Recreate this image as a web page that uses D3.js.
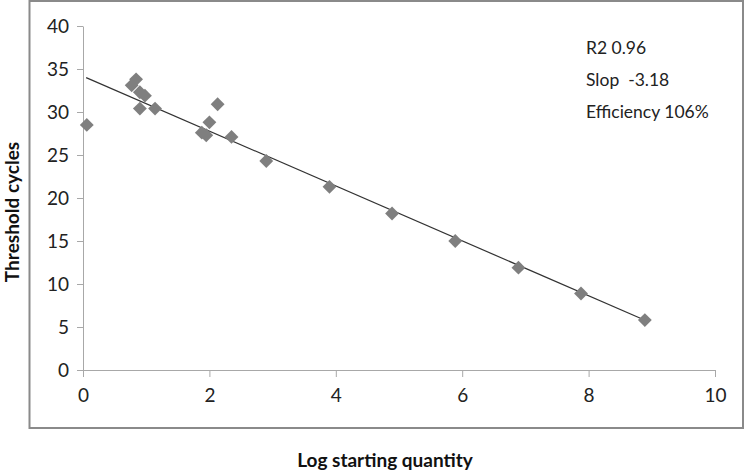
<!DOCTYPE html>
<html><head><meta charset="utf-8">
<script src="https://cdn.jsdelivr.net/npm/d3@7"></script>
<style>
html,body{margin:0;padding:0;background:#fff;}
svg{display:block;font-family:Lato,"Open Sans",sans-serif;}
</style></head>
<body><svg id="c" width="748" height="473"></svg>
<script>
const logQty = [0.06, 0.77, 0.84, 0.90, 0.98, 0.90, 1.14, 1.88, 1.95, 2.00, 2.13, 2.35, 2.90, 3.90, 4.89, 5.89, 6.89, 7.88, 8.89];
const ctValues = [28.5, 33.1, 33.8, 32.3, 31.9, 30.4, 30.4, 27.6, 27.3, 28.8, 30.9, 27.1, 24.3, 21.3, 18.2, 15.0, 11.9, 8.9, 5.8];
const trendX = [0.05, 8.92];
const trendY = [34.0, 5.7];
const xTicks = [0, 2, 4, 6, 8, 10];
const yTicks = [0, 5, 10, 15, 20, 25, 30, 35, 40];
const notes = ["R2 0.96", "Slop  -3.18", "Efficiency 106%"];
const xTitle = "Log starting quantity";
const yTitle = "Threshold cycles";

const svg = d3.select("#c");
const x = d3.scaleLinear().domain([0, 10]).range([83, 715]);
const y = d3.scaleLinear().domain([0, 40]).range([370, 26]);

svg.append("rect").attr("x", 29.5).attr("y", 1).attr("width", 713.5).attr("height", 427)
  .attr("fill", "none").attr("stroke", "#8a8a8a").attr("stroke-width", 2);

const axisColor = "#a8a8a8";
const gx = svg.append("g").attr("transform", "translate(0,370)")
  .call(d3.axisBottom(x).tickValues(xTicks).tickSize(7).tickSizeOuter(0).tickPadding(12).tickFormat(d3.format("d")));
const gy = svg.append("g").attr("transform", "translate(83,0)")
  .call(d3.axisLeft(y).tickValues(yTicks).tickSize(6).tickSizeOuter(0).tickPadding(8).tickFormat(d3.format("d")));
[gx, gy].forEach(g => {
  g.select(".domain").attr("stroke", axisColor);
  g.selectAll(".tick line").attr("stroke", axisColor);
  g.selectAll(".tick text").attr("fill", "#222").style("font-size", "19px").style("font-family", "Lato, sans-serif");
});
gy.selectAll(".tick text").attr("dy", "0.35em");

svg.append("line")
  .attr("x1", x(trendX[0])).attr("y1", y(trendY[0]))
  .attr("x2", x(trendX[1])).attr("y2", y(trendY[1]))
  .attr("stroke", "#333").attr("stroke-width", 1.2);

const sym = d3.symbol().type(d3.symbolSquare).size(96);
svg.append("g").selectAll("path").data(logQty.map((v, i) => [v, ctValues[i]]))
  .join("path")
  .attr("d", sym)
  .attr("transform", d => `translate(${x(d[0])},${y(d[1])}) rotate(45)`)
  .attr("fill", "#7f7f7f");

svg.append("g").selectAll("text").data(notes).join("text")
  .attr("x", 586).attr("y", (d, i) => 54 + i * 32)
  .style("white-space", "pre")
  .attr("fill", "#222").style("font-size", "17.5px").text(d => d);

svg.append("text").attr("x", 385).attr("y", 467).attr("text-anchor", "middle")
  .attr("fill", "#111").style("font-size", "19px").style("font-weight", "bold").text(xTitle);
svg.append("text").attr("transform", "translate(19,212) rotate(-90)").attr("text-anchor", "middle")
  .attr("fill", "#111").style("font-size", "19px").style("font-weight", "bold").text(yTitle);
</script></body></html>
